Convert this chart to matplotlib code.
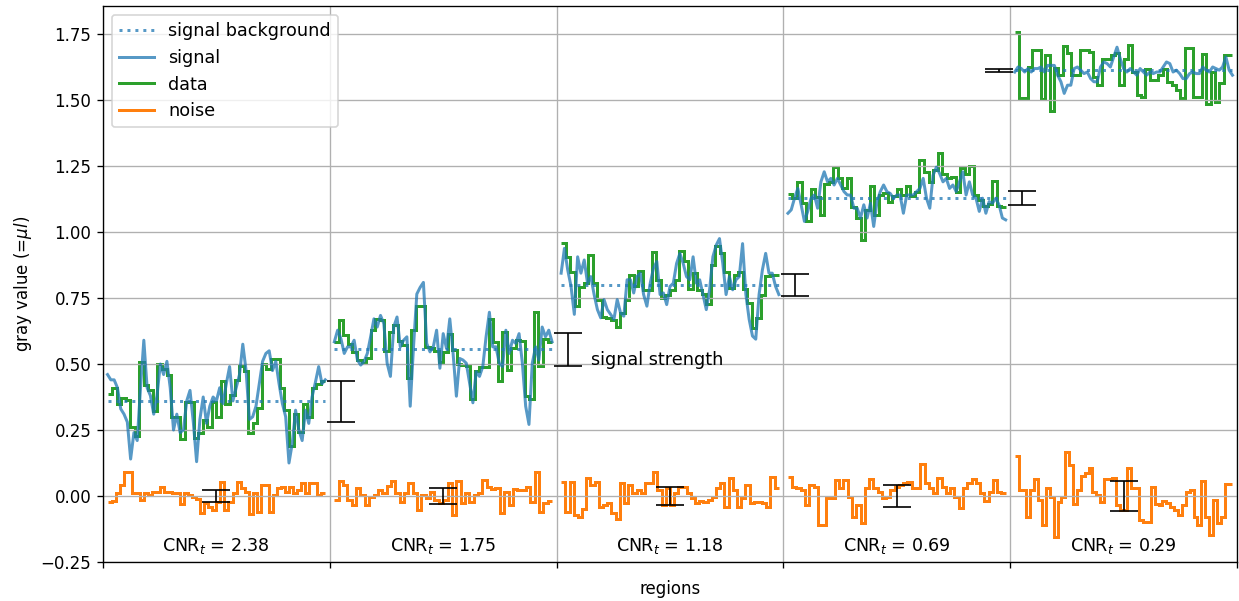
import numpy as np
import matplotlib
matplotlib.use("Agg")
from matplotlib import pyplot as plt

# values per region
background = [0.358, 0.555, 0.800, 1.130, 1.612]
strength_half = [0.077, 0.061, 0.042, 0.027, 0.006]
noise_half = [0.024, 0.029, 0.033, 0.042, 0.058]
cnr_values = ["2.38", "1.75", "1.18", "0.69", "0.29"]

signal_1 = [0.46, 0.44, 0.44, 0.41, 0.33, 0.31, 0.28, 0.14, 0.24, 0.21, 0.41, 0.59, 0.41, 0.38,
            0.31, 0.38, 0.50, 0.46, 0.51, 0.41, 0.25, 0.31, 0.24, 0.25, 0.36, 0.40, 0.28, 0.13,
            0.29, 0.375, 0.275, 0.34, 0.375, 0.36, 0.41, 0.35, 0.425, 0.49, 0.36, 0.41, 0.46,
            0.575, 0.475, 0.29, 0.30, 0.34, 0.425, 0.51, 0.54, 0.55, 0.475, 0.51, 0.425, 0.35,
            0.30, 0.125, 0.20, 0.325, 0.25, 0.21, 0.325, 0.275, 0.375, 0.43, 0.49, 0.425, 0.44]
signal_2 = [0.584, 0.628, 0.596, 0.54, 0.565, 0.565, 0.59, 0.515, 0.496, 0.509, 0.54, 0.603,
            0.671, 0.64, 0.684, 0.653, 0.503, 0.453, 0.64, 0.678, 0.565, 0.59, 0.603, 0.34,
            0.565, 0.765, 0.79, 0.809, 0.578, 0.546, 0.565, 0.628, 0.484, 0.615, 0.559, 0.671,
            0.54, 0.378, 0.521, 0.515, 0.503, 0.428, 0.353, 0.471, 0.453, 0.49, 0.603, 0.696,
            0.565, 0.565, 0.503, 0.49, 0.628, 0.54, 0.59, 0.578, 0.615, 0.503, 0.34, 0.271,
            0.503, 0.565, 0.515, 0.64, 0.603, 0.628, 0.584]
signal_3 = [0.844, 0.938, 0.856, 0.794, 0.688, 0.906, 0.844, 0.894, 0.806, 0.831, 0.763, 0.706,
            0.675, 0.744, 0.706, 0.688, 0.669, 0.744, 0.694, 0.681, 0.819, 0.819, 0.769, 0.831,
            0.844, 0.763, 0.719, 0.806, 0.863, 0.888, 0.763, 0.769, 0.725, 0.794, 0.806, 0.881,
            0.919, 0.881, 0.831, 0.819, 0.906, 0.806, 0.819, 0.763, 0.706, 0.781, 0.906, 0.95,
            0.975, 0.881, 0.763, 0.831, 0.781, 0.819, 0.831, 0.956, 0.763, 0.669, 0.606, 0.594,
            0.763, 0.856, 0.919, 0.844, 0.844, 0.794, 0.763]
signal_4 = [1.071, 1.084, 1.128, 1.165, 1.103, 1.04, 1.078, 1.128, 1.14, 1.09, 1.19, 1.228,
            1.19, 1.203, 1.178, 1.203, 1.178, 1.153, 1.14, 1.14, 1.09, 1.09, 1.053, 1.103,
            1.053, 1.109, 1.021, 1.115, 1.153, 1.178, 1.153, 1.146, 1.128, 1.14, 1.14, 1.071,
            1.14, 1.14, 1.14, 1.153, 1.165, 1.203, 1.128, 1.09, 1.215, 1.246, 1.221, 1.19,
            1.203, 1.165, 1.178, 1.153, 1.19, 1.228, 1.14, 1.19, 1.14, 1.128, 1.078, 1.128,
            1.071, 1.115, 1.109, 1.128, 1.103, 1.053, 1.046]
signal_5 = [1.606, 1.625, 1.619, 1.606, 1.619, 1.606, 1.619, 1.619, 1.625, 1.606, 1.631, 1.631,
            1.631, 1.594, 1.569, 1.525, 1.556, 1.556, 1.619, 1.625, 1.613, 1.60, 1.606, 1.581,
            1.569, 1.569, 1.625, 1.644, 1.638, 1.625, 1.663, 1.70, 1.656, 1.619, 1.606, 1.619,
            1.606, 1.594, 1.619, 1.606, 1.594, 1.606, 1.60, 1.606, 1.606, 1.625, 1.644, 1.638,
            1.606, 1.613, 1.60, 1.581, 1.581, 1.60, 1.606, 1.60, 1.60, 1.625, 1.613, 1.606,
            1.625, 1.619, 1.613, 1.625, 1.663, 1.613, 1.594]

data_1 = [0.385, 0.41, 0.35, 0.37, 0.3625, 0.2625, 0.2275, 0.506, 0.419, 0.40, 0.3225, 0.50,
          0.48, 0.459, 0.30, 0.30, 0.215, 0.356, 0.356, 0.219, 0.2375, 0.2875, 0.2625, 0.356,
          0.30, 0.434, 0.35, 0.381, 0.44, 0.494, 0.472, 0.2375, 0.275, 0.335, 0.50, 0.48,
          0.52, 0.52, 0.41, 0.3275, 0.1875, 0.31, 0.2425, 0.35, 0.2975, 0.4075, 0.4225, 0.435]
data_2 = [0.584, 0.667, 0.609, 0.577, 0.546, 0.515, 0.505, 0.524, 0.628, 0.671, 0.665, 0.55,
          0.621, 0.646, 0.588, 0.571, 0.446, 0.63, 0.721, 0.718, 0.565, 0.559, 0.55, 0.509,
          0.546, 0.615, 0.553, 0.50, 0.496, 0.493, 0.368, 0.475, 0.49, 0.49, 0.671, 0.584,
          0.434, 0.621, 0.478, 0.559, 0.59, 0.588, 0.378, 0.368, 0.696, 0.493, 0.593, 0.584]
data_3 = [0.959, 0.906, 0.85, 0.721, 0.791, 0.806, 0.913, 0.806, 0.744, 0.679, 0.675, 0.666,
          0.641, 0.694, 0.741, 0.838, 0.794, 0.854, 0.779, 0.781, 0.925, 0.819, 0.75, 0.763,
          0.779, 0.819, 0.929, 0.891, 0.784, 0.844, 0.781, 0.766, 0.729, 0.875, 0.946, 0.919,
          0.85, 0.788, 0.838, 0.85, 0.784, 0.731, 0.638, 0.675, 0.763, 0.834, 0.838, 0.838]
data_4 = [1.143, 1.128, 1.19, 1.109, 1.043, 1.163, 1.134, 1.065, 1.18, 1.19, 1.246, 1.205,
          1.165, 1.205, 1.096, 1.053, 0.971, 1.084, 1.175, 1.065, 1.14, 1.146, 1.113, 1.138,
          1.163, 1.14, 1.175, 1.138, 1.153, 1.271, 1.228, 1.19, 1.234, 1.30, 1.218, 1.203,
          1.209, 1.153, 1.243, 1.221, 1.25, 1.14, 1.121, 1.10, 1.105, 1.194, 1.10, 1.096]
data_5 = [1.756, 1.509, 1.509, 1.625, 1.688, 1.688, 1.503, 1.669, 1.459, 1.621, 1.594, 1.704,
          1.679, 1.596, 1.596, 1.688, 1.688, 1.681, 1.588, 1.556, 1.654, 1.656, 1.671, 1.679,
          1.556, 1.656, 1.709, 1.606, 1.519, 1.513, 1.619, 1.575, 1.575, 1.594, 1.619, 1.569,
          1.556, 1.538, 1.509, 1.696, 1.696, 1.513, 1.513, 1.675, 1.484, 1.606, 1.494, 1.563,
          1.671, 1.671]

noise_1 = [-0.021, -0.019, 0.01, 0.042, 0.092, 0.092, 0.01, 0.01, -0.015, 0.01, 0.004, 0.016,
           0.016, 0.035, 0.016, 0.016, 0.013, 0.01, -0.030, 0.01, 0.004, -0.003, -0.013, -0.066,
           -0.028, -0.040, -0.053, -0.021, 0.054, -0.053, -0.021, 0.01, 0.054, 0.029, 0.016,
           -0.068, 0.01, -0.060, 0.042, 0.042, -0.060, 0.004, 0.029, 0.035, 0.016, 0.035, 0.01,
           0.023, 0.048, 0.01, 0.048, 0.048, 0.004, 0.01]
noise_2 = [-0.015, 0.058, 0.042, -0.015, -0.034, 0.029, 0.004, -0.034, -0.003, 0.004, 0.023,
           0.01, 0.038, 0.058, 0.01, -0.021, 0.01, 0.048, 0.01, -0.053, 0.004, -0.009, 0.016,
           -0.015, -0.028, -0.015, 0.05, -0.072, 0.058, -0.028, 0.01, -0.021, 0.004, 0.01, 0.061,
           0.035, 0.025, 0.029, -0.066, 0.016, -0.034, 0.025, 0.023, 0.023, 0.035, -0.021, 0.092,
           -0.059, -0.028, -0.018]
noise_3 = [0.054, -0.059, 0.054, -0.072, -0.078, -0.051, 0.067, 0.042, 0.054, -0.04, -0.034,
           -0.028, -0.066, -0.088, 0.051, -0.028, 0.042, 0.01, 0.023, 0.01, 0.048, 0.051, 0.092,
           0.023, -0.034, 0.029, -0.034, 0.01, 0.033, 0.035, 0.01, -0.009, -0.028, -0.018, -0.021,
           -0.015, -0.003, 0.029, 0.048, -0.04, 0.067, 0.023, -0.04, -0.009, 0.042, -0.028,
           -0.021, -0.021, -0.028, -0.04, 0.073, 0.029]
noise_4 = [0.073, 0.035, 0.029, 0.023, -0.034, 0.042, 0.035, -0.111, -0.111, -0.009, -0.009,
           0.061, 0.029, 0.061, -0.003, -0.078, -0.034, -0.104, 0.029, 0.064, 0.029, 0.016,
           -0.009, -0.003, 0.023, 0.035, 0.042, 0.048, 0.052, 0.029, 0.029, 0.122, 0.048, 0.029,
           0.01, 0.067, 0.035, 0.01, 0.029, -0.003, -0.044, 0.029, 0.048, 0.064, 0.048, 0.01,
           -0.019, 0.016, 0.061, 0.016, 0.01]
noise_5 = [0.153, 0.023, 0.023, -0.078, 0.023, 0.064, -0.015, -0.11, 0.029, -0.003, -0.154,
           -0.022, -0.003, 0.168, 0.117, -0.032, 0.023, 0.077, 0.086, 0.105, 0.016, 0.004,
           -0.022, 0.064, 0.064, 0.067, -0.034, -0.053, -0.053, 0.107, 0.029, 0.029, -0.091,
           -0.097, -0.097, 0.035, -0.032, -0.034, -0.019, -0.028, -0.04, -0.053, -0.072, -0.034,
           0.016, 0.023, -0.078, -0.11, 0.057, -0.078, -0.148, -0.015, -0.104, -0.078, 0.044,
           0.044]

signals = [signal_1, signal_2, signal_3, signal_4, signal_5]
datas = [data_1, data_2, data_3, data_4, data_5]
noises = [noise_1, noise_2, noise_3, noise_4, noise_5]


def draw_regions():
    fig, ax = plt.subplots(figsize=(1239 / 120, 601 / 120), dpi=120)
    fig.subplots_adjust(left=103 / 1239, right=1237 / 1239, top=1 - 6 / 601, bottom=1 - 562 / 601)

    for i in range(5):
        lo, hi = i + 0.02, i + 0.98
        first = i == 0

        # dotted background level, noisy signal, sampled data
        ax.plot([lo, hi], [background[i], background[i]], ls=':', lw=1.8, color='C0', alpha=0.75,
                label="signal background" if first else None)
        ax.plot(np.linspace(lo, hi, len(signals[i])), signals[i], lw=1.8, color='C0', alpha=0.75,
                label="signal" if first else None)
        ax.stairs(datas[i], np.linspace(lo, hi, len(datas[i]) + 1), baseline=None,
                  color='C2', lw=1.8, label="data" if first else None)
        ax.stairs(noises[i], np.linspace(lo, hi, len(noises[i]) + 1), baseline=None,
                  color='C1', lw=1.8, label="noise" if first else None)

        # error bars: noise std in the middle, signal strength at the region edge
        ax.errorbar(i + 0.5, 0, yerr=noise_half[i], color='k', capsize=8.5, lw=1)
        sx = i + 1.05 if i < 4 else i - 0.05
        ax.errorbar(sx, background[i], yerr=strength_half[i], color='k', capsize=8.5, lw=1)

        ax.text(i + 0.5, -0.19, f"CNR$_t$ = {cnr_values[i]}", ha='center', va='center',
                fontsize=10.5)

    ax.text(2.15, 0.515, "signal strength", ha='left', va='center', fontsize=10.6)

    ax.set_xlim(0, 5)
    ax.set_ylim(-0.25, 1.856)
    ax.set_xticks(range(6))
    ax.set_xticklabels([])
    ax.set_xlabel("regions")
    ax.set_ylabel(r"gray value (=$\mu l$)")
    ax.grid(True)
    ax.legend(loc='upper left', fontsize=10.6)

    fig.savefig("out.png", dpi=120)


if __name__ == "__main__":
    draw_regions()
